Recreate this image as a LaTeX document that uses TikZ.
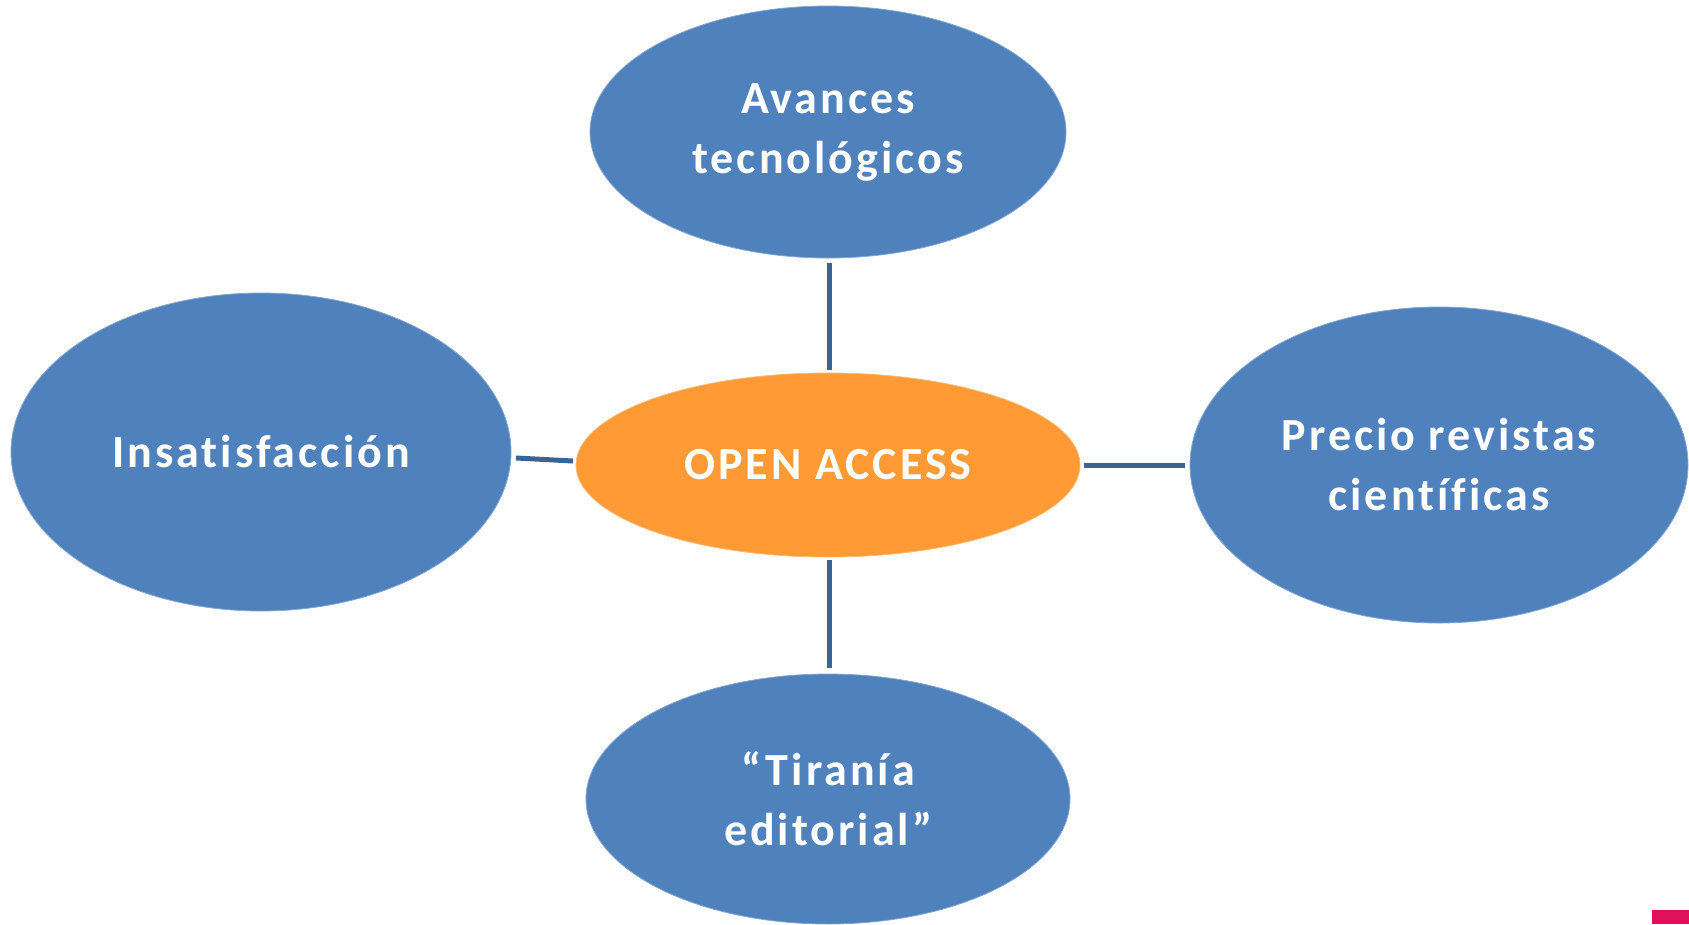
\documentclass[tikz,border=0pt]{standalone}
\usepackage{fontspec}
\setmainfont{Carlito}[LetterSpace=6.5, Ligatures=NoCommon]
\usetikzlibrary{shapes.geometric}
\definecolor{ellblue}{HTML}{4F81BD}
\definecolor{ellorange}{HTML}{FF9A35}
\definecolor{linkblue}{HTML}{3A6496}
\definecolor{logopink}{HTML}{E0105A}
\tikzset{
  bubble/.style={ellipse, fill=ellblue, draw=ellblue!70!white, line width=0.8pt, inner sep=0pt, text=white, font=\bfseries\fontsize{46}{60}\selectfont, align=center},
  core/.style={bubble, fill=ellorange, draw=ellorange!70!white},
  link/.style={draw=linkblue, line width=5pt}
}
\begin{document}
\begin{tikzpicture}[x=1pt,y=-1pt]
\useasboundingbox (0,0) rectangle (1689,924);
\node[bubble, minimum width=476pt, minimum height=252pt] (top) at (828,132) {Avances\\tecnológicos};
\node[bubble, minimum width=500pt, minimum height=318pt] (left) at (261,452) {Insatisfacción};
\node[core, minimum width=504pt, minimum height=184pt] (center) at (828,465) {OPEN ACCESS};
\node[bubble, minimum width=498pt, minimum height=316pt] (right) at (1439,465) {Precio revistas\\científicas};
\node[bubble, minimum width=484pt, minimum height=250pt] (bottom) at (828,799) {“Tiranía\\editorial”};
\coordinate (t1) at (829,263);
\coordinate (t2) at (829,370);
\coordinate (l1) at (516,458);
\coordinate (l2) at (573,461);
\coordinate (r1) at (1084,465);
\coordinate (r2) at (1185,465);
\coordinate (b1) at (829,560);
\coordinate (b2) at (829,668);
\draw[link] (t1) -- (t2);
\draw[link] (l1) -- (l2);
\draw[link] (r1) -- (r2);
\draw[link] (b1) -- (b2);
\node[fill=logopink, inner sep=0pt, minimum width=37pt, minimum height=14pt, anchor=north west] (logo) at (1652,910) {};
\end{tikzpicture}
\end{document}
